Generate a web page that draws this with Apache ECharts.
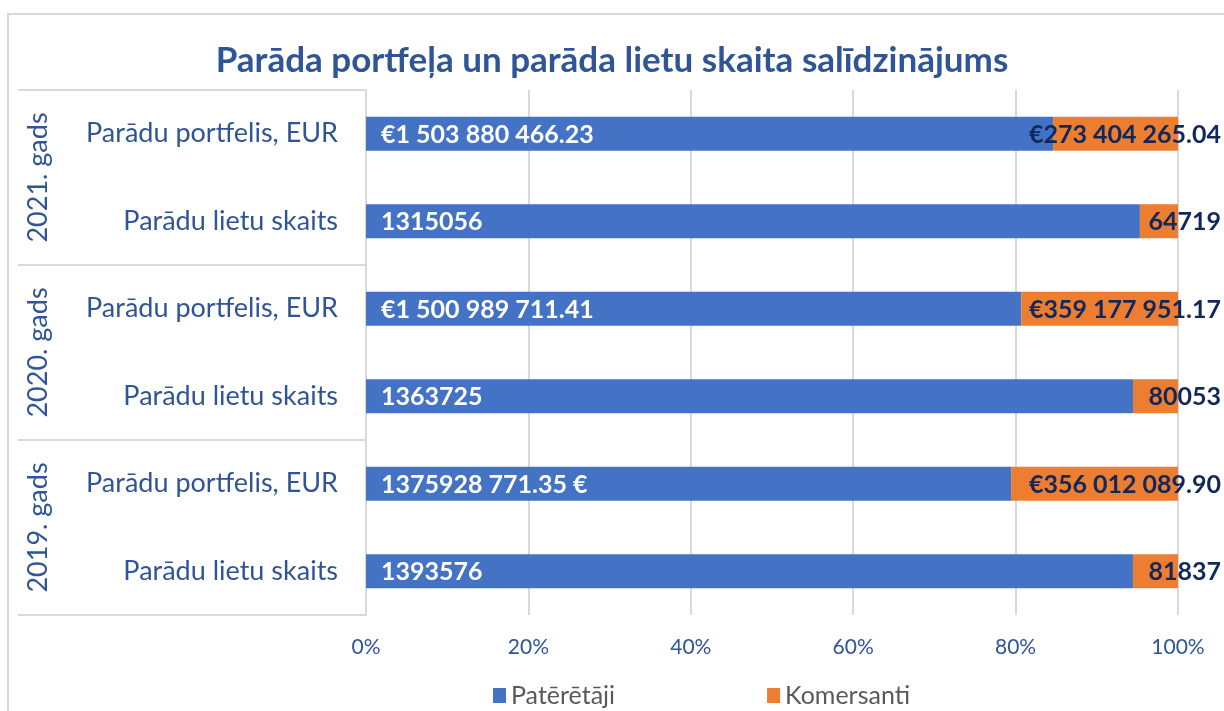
<!DOCTYPE html>
<html>
<head>
    <meta charset="utf-8">
    <title>ECharts</title>
    <script src="https://cdn.jsdelivr.net/npm/echarts@6/dist/echarts.min.js"></script>
    <style>
        body { margin: 0; background: #fff; }
        #main { width: 1224px; height: 711px; }
    </style>
</head>
<body>
<div id="main"></div>
<script>
    // kategorijas (no augšas uz leju)
    var rowNames = ['Parādu portfelis, EUR', 'Parādu lietu skaits',
                    'Parādu portfelis, EUR', 'Parādu lietu skaits',
                    'Parādu portfelis, EUR', 'Parādu lietu skaits'];
    var years = ['2021. gads', '2020. gads', '2019. gads'];

    // vērtības
    var pateretaji = [1503880466.23, 1315056, 1500989711.41, 1363725, 1375928771.35, 1393576];
    var komersanti = [273404265.04, 64719, 359177951.17, 80053, 356012089.90, 81837];

    // datu etiķetes, kā attēlā
    var pateretajiLabels = ['€1 503 880 466.23', '1315056', '€1 500 989 711.41', '1363725', '1375928 771.35 €', '1393576'];
    var komersantiLabels = ['€273 404 265.04', '64719', '€359 177 951.17', '80053', '€356 012 089.90', '81837'];

    var axisTicks = [0, 20, 40, 60, 80, 100];

    var font = 'Lato';
    var blueText = '#2F5597';

    // 100% stacked -> procenti
    function share(a, b) {
        return a.map(function (v, i) { return v / (v + b[i]) * 100; });
    }
    var patPct = share(pateretaji, komersanti);
    var komPct = share(komersanti, pateretaji);

    var myChart = echarts.init(document.getElementById('main'));
    var option = {
        animation: false,
        textStyle: { fontFamily: font },
        title: {
            text: 'Parāda portfeļa un parāda lietu skaita salīdzinājums',
            left: 'center',
            top: 38,
            textStyle: { color: blueText, fontSize: 35, fontWeight: 'bold', fontFamily: font }
        },
        graphic: [{
            type: 'rect',
            shape: { x: 8, y: 14, width: 1240, height: 720 },
            style: { fill: 'none', stroke: '#d9d9d9', lineWidth: 2 },
            silent: true
        }],
        legend: {
            left: 488,
            top: 678,
            icon: 'rect',
            itemWidth: 13,
            itemHeight: 15,
            itemGap: 152,
            textStyle: { color: '#595959', fontSize: 25, fontFamily: font }
        },
        grid: { left: 366, right: 46, top: 90, bottom: 96 },
        xAxis: {
            type: 'value',
            min: 0,
            max: 100,
            interval: 20,
            axisLine: { show: false },
            axisTick: { show: false },
            axisLabel: {
                formatter: '{value}%',
                color: blueText,
                fontSize: 21,
                margin: 22,
                customValues: axisTicks
            },
            splitLine: { lineStyle: { color: '#d9d9d9', width: 2 } }
        },
        yAxis: [{
            type: 'category',
            inverse: true,
            data: rowNames,
            axisLine: { show: true, lineStyle: { color: '#d9d9d9', width: 2 } },
            axisTick: { show: false },
            axisLabel: { color: blueText, fontSize: 27, margin: 28, fontFamily: font }
        }, {
            type: 'category',
            inverse: true,
            position: 'left',
            data: years,
            axisLine: { show: false },
            axisTick: { show: true, length: 348, lineStyle: { color: '#d9d9d9', width: 2 } },
            axisLabel: { color: blueText, fontSize: 27, rotate: 90, margin: 314, fontFamily: font }
        }],
        series: [{
            name: 'Patērētāji',
            type: 'bar',
            stack: 'total',
            barWidth: 34,
            itemStyle: { color: '#4472C4' },
            label: {
                show: true,
                position: 'insideLeft',
                offset: [10, 1],
                color: '#fff',
                fontWeight: 'bold',
                fontSize: 25,
                fontFamily: font,
                formatter: function (p) { return pateretajiLabels[p.dataIndex]; }
            },
            data: patPct
        }, {
            name: 'Komersanti',
            type: 'bar',
            stack: 'total',
            barWidth: 34,
            itemStyle: { color: '#ED7D31' },
            label: {
                show: true,
                position: 'insideRight',
                offset: [48, 1],
                color: '#10285A',
                fontWeight: 'bold',
                fontSize: 25,
                fontFamily: font,
                formatter: function (p) { return komersantiLabels[p.dataIndex]; }
            },
            data: komPct
        }]
    };
    myChart.setOption(option);
</script>
</body>
</html>
